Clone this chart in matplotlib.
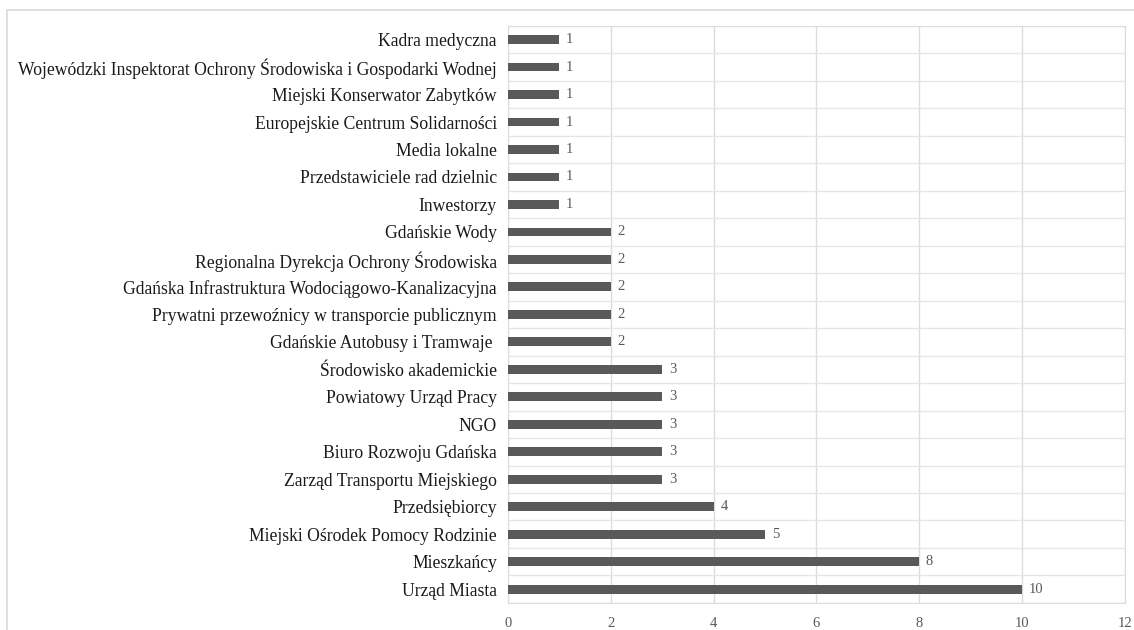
import matplotlib.pyplot as plt
from matplotlib.patches import Rectangle
import numpy as np

# kategorie od góry do dołu
kategorie = [
    'Kadra medyczna',
    'Wojewódzki Inspektorat Ochrony Środowiska i Gospodarki Wodnej',
    'Miejski Konserwator Zabytków',
    'Europejskie Centrum Solidarności',
    'Media lokalne',
    'Przedstawiciele rad dzielnic',
    'Inwestorzy',
    'Gdańskie Wody',
    'Regionalna Dyrekcja Ochrony Środowiska',
    'Gdańska Infrastruktura Wodociągowo-Kanalizacyjna',
    'Prywatni przewoźnicy w transporcie publicznym',
    'Gdańskie Autobusy i Tramwaje ',
    'Środowisko akademickie',
    'Powiatowy Urząd Pracy',
    'NGO',
    'Biuro Rozwoju Gdańska',
    'Zarząd Transportu Miejskiego',
    'Przedsiębiorcy',
    'Miejski Ośrodek Pomocy Rodzinie',
    'Mieszkańcy',
    'Urząd Miasta',
]
wartosci = [1, 1, 1, 1, 1, 1, 1, 2, 2, 2, 2, 2, 3, 3, 3, 3, 3, 4, 5, 8, 10]
x_ticks = [0, 2, 4, 6, 8, 10, 12]

plt.rcParams['font.family'] = ['Liberation Serif', 'DejaVu Serif']

fig = plt.figure(figsize=(11.34, 6.30), dpi=100)
ax = fig.add_axes([0.448, 0.043, 0.544, 0.916])

# ramka wokół całego wykresu
fig.patches.append(Rectangle((7 / 1134, -0.01), 1.02, 1 - 10 / 630 + 0.01,
                             transform=fig.transFigure, fill=False,
                             edgecolor='#d9d9d9', linewidth=1.2))

n = len(kategorie)
y = np.arange(n)[::-1]
ax.barh(y, wartosci, height=0.32, color='#595959', zorder=3)

for yi, v in zip(y, wartosci):
    ax.text(v + 0.13, yi, str(v), va='center', ha='left', fontsize=10.5, color='#595959')

ax.set_xlim(0, 12)
ax.set_ylim(-0.5, n - 0.5)
ax.set_xticks(x_ticks)
ax.set_xticklabels([str(t) for t in x_ticks], fontsize=10.5, color='#595959')
ax.set_yticks(y)
ax.set_yticklabels(kategorie, fontsize=12.7, color='#1a1a1a')

# linie siatki: pionowe przy podziałce, poziome między kategoriami
ax.set_yticks(np.arange(-0.5, n, 1), minor=True)
ax.grid(True, axis='x', color='#dcdcdc', linewidth=1, zorder=0)
ax.grid(True, axis='y', which='minor', color='#e6e6e6', linewidth=1, zorder=0)
ax.tick_params(axis='both', which='both', length=0)
ax.tick_params(axis='x', pad=10)
ax.tick_params(axis='y', pad=8)
for s in ax.spines.values():
    s.set_color('#dcdcdc')

fig.savefig('out.png', dpi=100)
